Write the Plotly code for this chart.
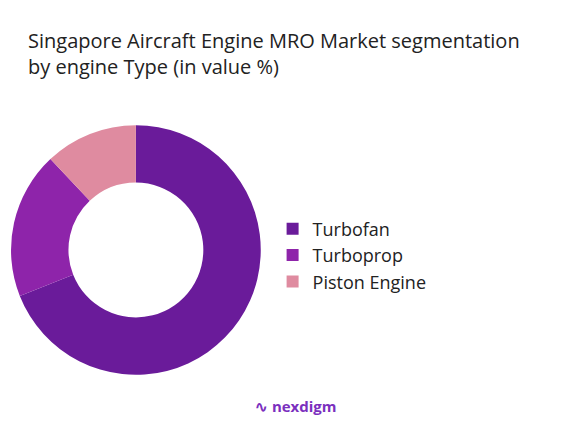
import plotly.graph_objects as go

labels = ["Turbofan", "Turboprop", "Piston Engine"]
values = [69, 19, 12]
colors = ["#6a1b9a", "#8e24aa", "#df8ba0"]

fig = go.Figure(go.Pie(
    labels=labels, values=values, hole=0.54, sort=False, direction="clockwise",
    rotation=0, marker=dict(colors=colors), textinfo="none", hoverinfo="label+percent",
    domain=dict(x=[0.005, 0.430], y=[0.170, 0.735]),
))

fig.update_layout(
    width=588, height=442,
    margin=dict(l=0, r=0, t=0, b=0),
    paper_bgcolor="white",
    font=dict(family="Open Sans, sans-serif", color="#222"),
    title=dict(
        text="Singapore Aircraft Engine MRO Market segmentation<br>by engine Type (in value %)",
        x=20 / 588, xanchor="left", y=1 - 40 / 442, yanchor="top",
        font=dict(size=20, color="#222"),
    ),
    legend=dict(x=0.45, xanchor="left", y=0.44, yanchor="middle",
                font=dict(size=18), itemsizing="constant"),
    annotations=[dict(
        text="<b>∿ nexdigm</b>", x=0.49, y=1 - 410 / 442, xref="paper", yref="paper",
        showarrow=False, font=dict(size=15, color="#7b2fbe"),
    )],
)

fig.write_html("out.html")
